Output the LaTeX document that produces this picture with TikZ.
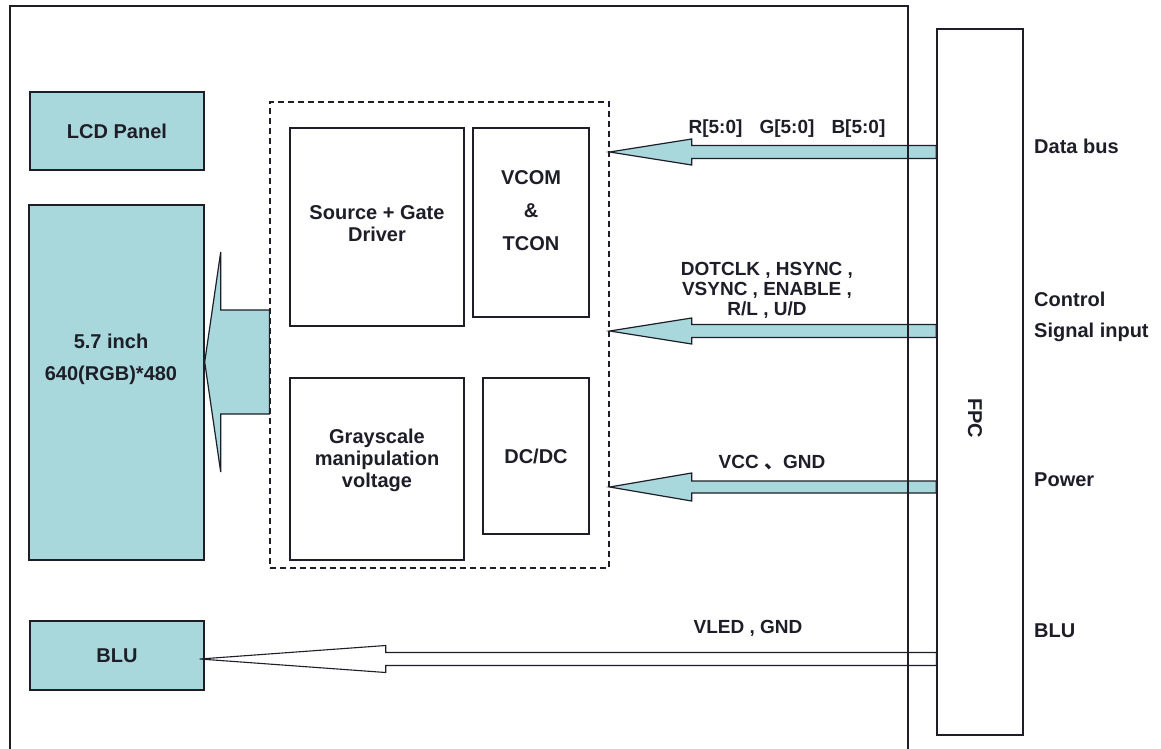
\documentclass[tikz,border=0pt]{standalone}
\usepackage{fontspec}
\setmainfont{Liberation Sans}
\newfontfamily\cjk{Noto Sans CJK SC}
\usetikzlibrary{calc}
\definecolor{teal}{RGB}{168,216,220}
\definecolor{ink}{RGB}{30,30,40}
\newcommand\fatarrow[6]{\draw[#1] (#2) -- ++(#4,-#5) -- ++(0,{#5-#6}) -- ($(#3)+(0,-#6)$) -- ($(#3)+(0,#6)$) -- ($(#2)+(#4,#6)$) -- ++(0,{#5-#6}) -- cycle;}
\begin{document}
\begin{tikzpicture}[x=1pt,y=-1pt,
  box/.style={draw=ink,line width=1.4pt,minimum width=#1,inner sep=0pt},
  tealbox/.style={box=#1,fill=teal},
  lbl/.style={text=ink,font=\fontsize{20}{22}\selectfont\bfseries,align=center,inner sep=0pt},
  sig/.style={text=ink,font=\fontsize{19}{20}\selectfont\bfseries,align=center,inner sep=0pt},
  side/.style={lbl,anchor=west},
  dashbox/.style={draw=ink,line width=1.3pt,dash pattern=on 6pt off 4pt,inner sep=0pt},
  tealarrow/.style={draw=ink,line width=1.2pt,fill=teal,line join=miter},
  whitearrow/.style={draw=ink,line width=1.1pt,fill=white,line join=miter}]
\useasboundingbox (0,0) rectangle (1161,749);
\clip (0,0) rectangle (1161,749);
\fill[white] (0,0) rectangle (1161,749);
% blocks
\node[tealbox=174pt,minimum height=78pt] (lcd) at (117,131) {};
\node[lbl] (lcdt) at (lcd.center) {LCD Panel};
\node[tealbox=175pt,minimum height=355pt] (disp) at (116.5,382.5) {};
\node[lbl,font=\fontsize{20}{32}\selectfont\bfseries] (dispt) at (111,359) {5.7 inch\\640(RGB)*480};
\node[tealbox=174pt,minimum height=69pt] (blu) at (117,655.5) {};
\node[lbl] (blut) at (blu.center) {BLU};
\node[dashbox,minimum width=339pt,minimum height=466pt] (ic) at (439.5,335) {};
\node[box=174pt,minimum height=198pt] (sg) at (377,227) {};
\node[lbl] (sgt) at (377,224) {Source + Gate\\Driver};
\node[box=116pt,minimum height=189pt] (vcom) at (531,222.5) {};
\node[lbl,font=\fontsize{20}{33}\selectfont\bfseries] (vcomt) at (531,211) {VCOM\\\&\\TCON};
\node[box=174pt,minimum height=182pt] (gs) at (377,469) {};
\node[lbl] (gst) at (377,460) {Grayscale\\manipulation\\voltage};
\node[box=106pt,minimum height=156pt] (dc) at (536,456) {};
\node[lbl] (dct) at (dc.center) {DC/DC};
% arrows
\coordinate (tipA) at (disp.east |- 0,362);
\coordinate (tailA) at (ic.west |- 0,362);
\fatarrow{tealarrow}{tipA}{tailA}{16}{110}{52}
\node[box=86pt,minimum height=706pt] (fpc) at (980,382) {};
\coordinate (tip1) at (ic.east |- 0,152);
\coordinate (tail1) at (fpc.west |- 0,152);
\fatarrow{tealarrow}{tip1}{tail1}{82}{13}{6.5}
\coordinate (tip2) at (ic.east |- 0,331);
\coordinate (tail2) at (fpc.west |- 0,331);
\fatarrow{tealarrow}{tip2}{tail2}{82}{13}{6.5}
\coordinate (tip3) at (ic.east |- 0,487);
\coordinate (tail3) at (fpc.west |- 0,487);
\fatarrow{tealarrow}{tip3}{tail3}{82}{14}{6}
\coordinate (tip4) at ($(blu.east |- 0,659)+(-5,0)$);
\coordinate (tail4) at (fpc.west |- 0,659);
\fatarrow{whitearrow}{tip4}{tail4}{186}{13.5}{6.5}
% frames on top
\draw[ink,line width=1.4pt] (10,6) rectangle (908,760);
\node[box=86pt,minimum height=706pt] (fpc2) at (fpc.center) {};
\node[lbl,rotate=-90] (fpct) at (975,418) {FPC};
% arrow labels
\node[sig] (l1) at (787,129) {R[5:0]\hspace{0.9em}G[5:0]\hspace{0.9em}B[5:0]};
\node[sig] (l2) at (767,290) {DOTCLK , HSYNC ,\\VSYNC , ENABLE ,\\R/L , U/D};
\node[sig] (l3) at (772,463) {VCC {\cjk 、}GND};
\node[sig] (l4) at (748,628) {VLED , GND};
% side labels
\node[side] (s1) at (1034,146) {Data bus};
\node[side] (s2) at (1034,299) {Control};
\node[side] (s3) at (1034,332) {Signal input};
\node[side] (s4) at (1034,480) {Power};
\node[side] (s5) at (1034,631) {BLU};
\end{tikzpicture}
\end{document}
